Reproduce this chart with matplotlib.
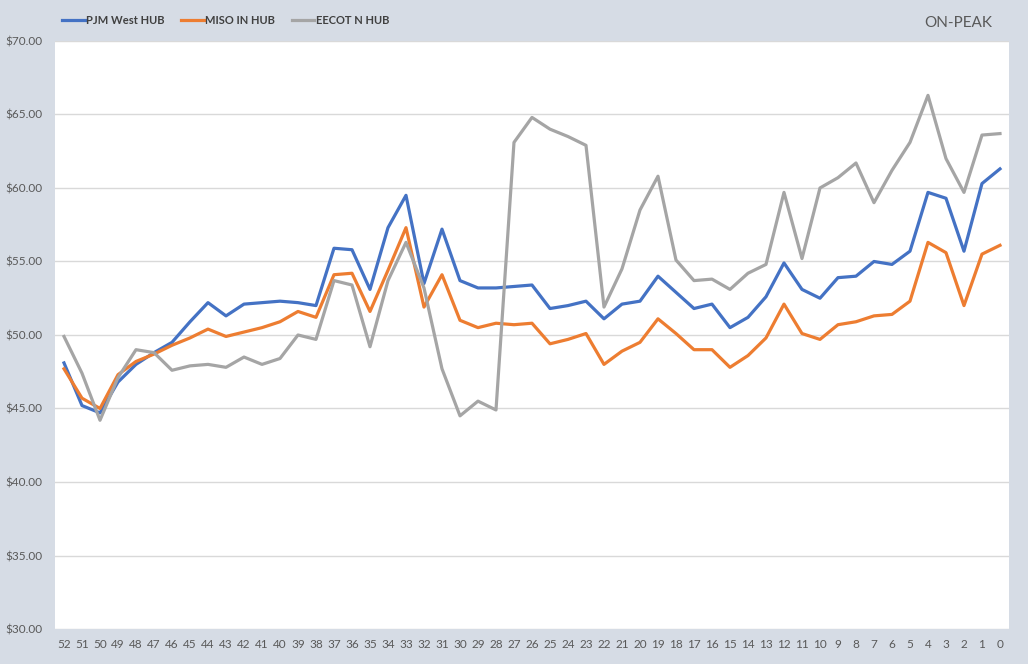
import matplotlib.pyplot as plt
from matplotlib.ticker import FuncFormatter

# weeks counted down from 52 to 0
weeks = [str(w) for w in range(52, -1, -1)]

pjm_west = [48.1, 45.2, 44.7, 46.8, 48.0, 48.8, 49.5, 50.9, 52.2, 51.3,
            52.1, 52.2, 52.3, 52.2, 52.0, 55.9, 55.8, 53.1, 57.3, 59.5,
            53.5, 57.2, 53.7, 53.2, 53.2, 53.3, 53.4, 51.8, 52.0, 52.3,
            51.1, 52.1, 52.3, 54.0, 52.9, 51.8, 52.1, 50.5, 51.2, 52.6,
            54.9, 53.1, 52.5, 53.9, 54.0, 55.0, 54.8, 55.7, 59.7, 59.3,
            55.7, 60.3, 61.3]

miso_in = [47.7, 45.7, 45.0, 47.3, 48.2, 48.7, 49.3, 49.8, 50.4, 49.9,
           50.2, 50.5, 50.9, 51.6, 51.2, 54.1, 54.2, 51.6, 54.4, 57.3,
           51.9, 54.1, 51.0, 50.5, 50.8, 50.7, 50.8, 49.4, 49.7, 50.1,
           48.0, 48.9, 49.5, 51.1, 50.1, 49.0, 49.0, 47.8, 48.6, 49.8,
           52.1, 50.1, 49.7, 50.7, 50.9, 51.3, 51.4, 52.3, 56.3, 55.6,
           52.0, 55.5, 56.1]

eecot_n = [49.9, 47.4, 44.2, 47.1, 49.0, 48.8, 47.6, 47.9, 48.0, 47.8,
           48.5, 48.0, 48.4, 50.0, 49.7, 53.7, 53.4, 49.2, 53.7, 56.3,
           53.2, 47.7, 44.5, 45.5, 44.9, 63.1, 64.8, 64.0, 63.5, 62.9,
           51.9, 54.5, 58.5, 60.8, 55.1, 53.7, 53.8, 53.1, 54.2, 54.8,
           59.7, 55.2, 60.0, 60.7, 61.7, 59.0, 61.2, 63.1, 66.3, 62.0,
           59.7, 63.6, 63.7]

plt.rcParams['font.family'] = ['Lato', 'DejaVu Sans']

bg = '#D6DCE5'
txt = '#595959'

fig = plt.figure(figsize=(10.28, 6.64), dpi=100, facecolor=bg)
ax = fig.add_axes([0.0535, 0.0527, 0.928, 0.8856])
ax.set_facecolor('white')

x = list(range(len(weeks)))
ax.plot(x, pjm_west, color='#4472C4', lw=2.3, label='PJM West HUB')
ax.plot(x, miso_in, color='#ED7D31', lw=2.3, label='MISO IN HUB')
ax.plot(x, eecot_n, color='#A5A5A5', lw=2.3, label='EECOT N HUB')

ax.set_xlim(-0.5, len(weeks) - 0.5)
ax.set_ylim(30, 70)
ax.set_yticks(range(30, 71, 5))
ax.yaxis.set_major_formatter(FuncFormatter(lambda v, p: f'${v:.2f}'))
ax.set_xticks(x)
ax.set_xticklabels(weeks)
ax.grid(axis='y', color='#D9D9D9', lw=1)
ax.set_axisbelow(True)
for s in ax.spines.values():
    s.set_visible(False)
ax.tick_params(length=0, labelsize=8.5, labelcolor=txt)
ax.tick_params(axis='y', pad=9)
ax.tick_params(axis='x', pad=7)

fig.legend(loc='upper left', bbox_to_anchor=(0.051, 0.993), ncol=3, frameon=False,
           fontsize=8.5, handlelength=2.0, handletextpad=0.15, columnspacing=1.5,
           labelcolor='#404040', prop={'weight': 'bold', 'size': 8})

fig.text(0.9655, 0.965, 'ON-PEAK', ha='right', va='center', fontsize=11, color=txt)

fig.savefig('out.png', dpi=100, facecolor=bg)
